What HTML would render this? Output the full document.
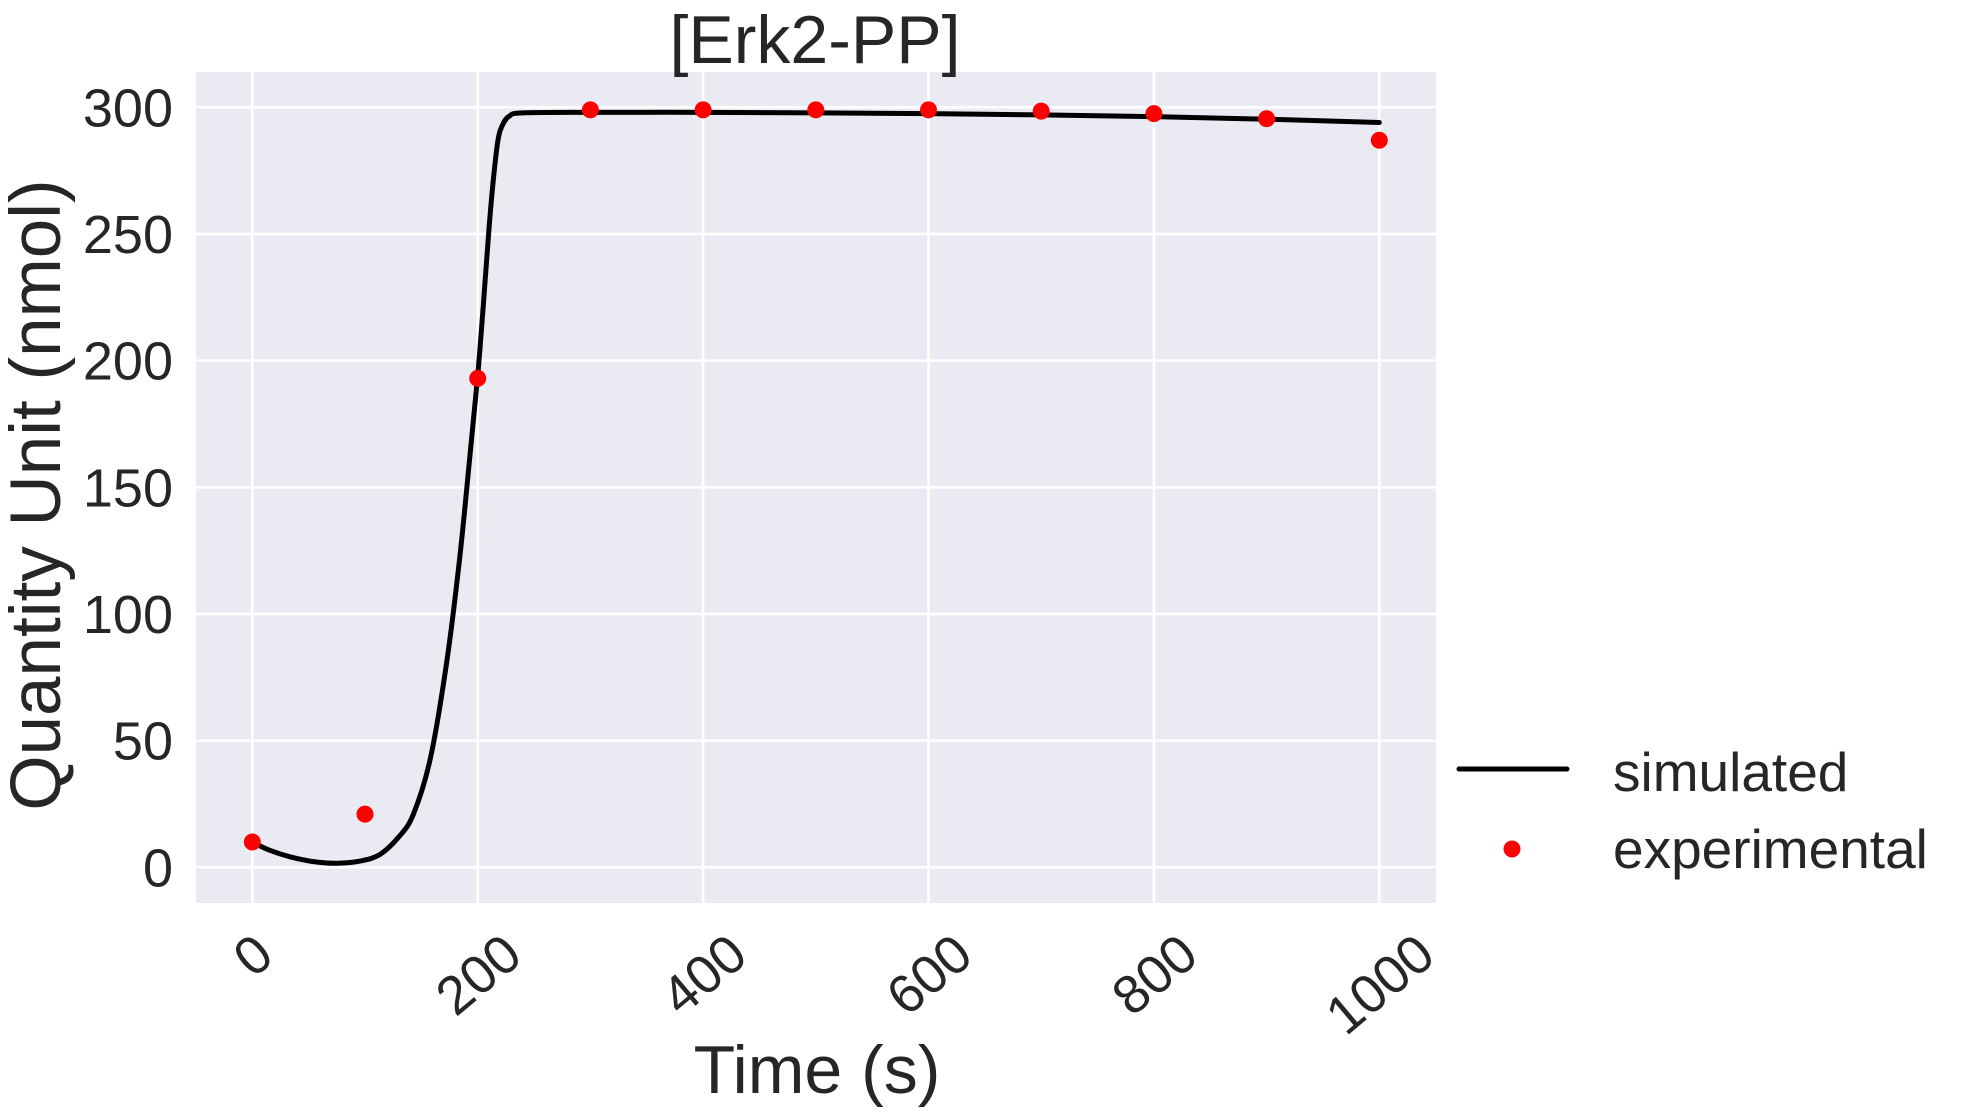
<!DOCTYPE html>
<html><head><meta charset="utf-8"><style>
html,body{margin:0;padding:0;background:#fff;}
svg{display:block;font-family:"Liberation Sans",Arial,sans-serif;}
</style></head><body>
<svg id="chart" width="1966" height="1119" viewBox="0 0 1966 1119" xmlns="http://www.w3.org/2000/svg">
<rect x="196" y="72" width="1240" height="831" fill="#eaeaf2"/>
<g id="grid"></g>
<g id="yticks"></g>
<g id="xticks"></g>
<g id="series"></g>
<text x="815" y="63" font-size="68" fill="#262626" text-anchor="middle">[Erk2-PP]</text>
<text x="817" y="1093" font-size="68" fill="#262626" text-anchor="middle">Time (s)</text>
<text transform="translate(60,495) rotate(-90)" font-size="71" fill="#262626" text-anchor="middle">Quantity Unit (nmol)</text>
<g>
<line x1="1459" y1="769" x2="1567" y2="769" stroke="#000" stroke-width="5" stroke-linecap="round"/>
<text x="1613" y="791" font-size="55" fill="#262626">simulated</text>
<circle cx="1512" cy="849" r="8.5" fill="#ff0000"/>
<text x="1613" y="868" font-size="55" fill="#262626">experimental</text>
</g>
</svg>
<script>
const xTicks = [0, 200, 400, 600, 800, 1000];
const yTicks = [0, 50, 100, 150, 200, 250, 300];
const simTime = [0,15,33,55,75,95,113,130,143,158,172.5,184,193,200,205,210,214,218,222,228,240,300,400,500,600,700,800,900,1000];
const simValues = [9.9,6.8,4.2,2.2,1.6,2.4,5,12,21,43,81,122,162,194,222,252,272,287,293,296.5,297.8,298,298,297.8,297.5,297,296.3,295.3,294];
const expTime = [0,100,200,300,400,500,600,700,800,900,1000];
const expValues = [10,21,193,299,299,299,299,298.5,297.5,295.5,287];

const NS = 'http://www.w3.org/2000/svg';
function xS(v){ return 252.3 + (v - 0) * (1379.3 - 252.3) / 1000; }
function yS(v){ return 867.3 - v * (867.3 - 107.3) / 300; }
function mk(tag, attrs, parent){ const e = document.createElementNS(NS, tag); for (const k in attrs) e.setAttribute(k, attrs[k]); parent.appendChild(e); return e; }

const grid = document.getElementById('grid');
const yt = document.getElementById('yticks');
const xt = document.getElementById('xticks');
const series = document.getElementById('series');

yTicks.forEach(v => {
  const l = mk('line', {x1:196, x2:1436, y1:yS(v), y2:yS(v), stroke:'#fff', 'stroke-width':2.6}, grid);
  
  
  const t = mk('text', {x:173, y:yS(v)+19, 'font-size':54, fill:'#262626', 'text-anchor':'end'}, yt);
  t.textContent = String(v);
  
  
});
xTicks.forEach(v => {
  const l = mk('line', {x1:xS(v), x2:xS(v), y1:72, y2:903, stroke:'#fff', 'stroke-width':2.6}, grid);
  
  
  const s = String(v);
  const fs = 54, w = s.length * 0.556 * fs, h = 0.72 * fs;
  const a = 40 * Math.PI / 180;
  const bh = w * Math.sin(a) + h * Math.cos(a);
  const cy = 930 + bh / 2;
  const t = mk('text', {x:0, y:h/2, 'font-size':fs, fill:'#262626', 'text-anchor':'middle', transform:`translate(${xS(v)},${cy}) rotate(-40)`}, xt);
  t.textContent = s;
  
  
});

const pts = simTime.map((t,i) => [xS(t), yS(simValues[i])]);
let d = `M${pts[0][0]},${pts[0][1]}`;
for (let i = 0; i < pts.length - 1; i++) {
  const p0 = pts[i-1] || pts[i], p1 = pts[i], p2 = pts[i+1], p3 = pts[i+2] || p2;
  const c1 = [p1[0] + (p2[0]-p0[0])/6, p1[1] + (p2[1]-p0[1])/6];
  const c2 = [p2[0] - (p3[0]-p1[0])/6, p2[1] - (p3[1]-p1[1])/6];
  d += ` C${c1[0]},${c1[1]} ${c2[0]},${c2[1]} ${p2[0]},${p2[1]}`;
}
const path = mk('path', {d:d, fill:'none', stroke:'#000', 'stroke-width':5, 'stroke-linecap':'round', 'stroke-linejoin':'round'}, series);



expTime.forEach((t,i) => {
  const c = mk('circle', {cx:xS(t), cy:yS(expValues[i]), r:8.5, fill:'#ff0000'}, series);
  
  
});
</script>
</body></html>
